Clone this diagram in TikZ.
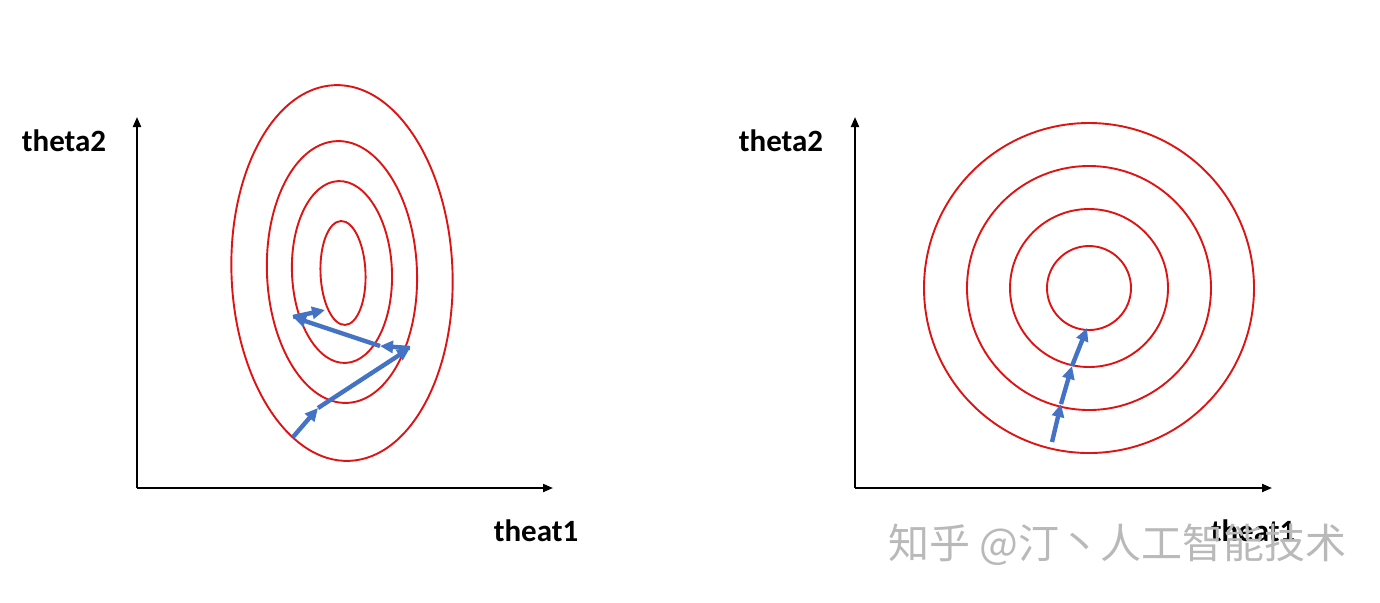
\documentclass[tikz,border=0pt]{standalone}
\usepackage{fontspec}
\setmainfont{Carlito}
\newfontfamily\cjk{Noto Sans CJK SC}
\usetikzlibrary{arrows.meta}
\definecolor{contour}{RGB}{222,20,20}
\definecolor{step blue}{RGB}{68,114,196}
\definecolor{mark gray}{RGB}{185,185,185}

\begin{document}
\begin{tikzpicture}[x=0.5pt,y=-0.5pt]
 \tikzset{axis/.style={draw=black, line width=1pt, -{Triangle[length=5pt,width=4pt]}},
  level/.style={draw=contour, line width=0.95pt},
  descent/.style={draw=step blue, line width=2.2pt, -{Triangle[length=6.5pt,width=6pt]}},
  axis label/.style={font=\fontsize{15.5}{18}\selectfont\bfseries, inner sep=0pt},
  watermark/.style={font=\cjk\fontsize{20.5}{24}\selectfont, text=mark gray, inner sep=0pt}
}
\useasboundingbox (0,0) rectangle (1380,602);

\coordinate (oL) at (137,488);
\coordinate (yL) at (137,117);
\coordinate (xL) at (553,488);
\draw[axis] (oL) -- (yL);
\draw[axis] (oL) -- (xL);
\node[axis label] (t2L) at (64,141) {theta2};
\node[axis label] (t1L) at (536,531) {theat1};

\begin{scope}[shift={(342,273)}, rotate=2.3]
 \draw[level] (0,0) ellipse [x radius=110.5, y radius=188];
 \draw[level] (0,-1) ellipse [x radius=75, y radius=131];
 \draw[level] (0,-1) ellipse [x radius=50, y radius=91];
 \draw[level] (1,0) ellipse [x radius=22.5, y radius=52];
\end{scope}

\coordinate (a0) at (293,437);
\coordinate (a1) at (318,408);
\coordinate (a2) at (410,348);
\coordinate (a3) at (380,346);
\coordinate (a4) at (293,317);
\coordinate (a5) at (325,310);
\foreach \from/\to in {a0/a1,a1/a2,a2/a3,a3/a4,a4/a5}
 \draw[descent] (\from) -- (\to);

\coordinate (oR) at (855,488);
\coordinate (yR) at (855,117);
\coordinate (xR) at (1272,488);
\draw[axis] (oR) -- (yR);
\draw[axis] (oR) -- (xR);
\node[axis label] (t2R) at (781,141) {theta2};
\node[axis label] (t1R) at (1253,531) {theat1};

\coordinate (cR) at (1089,288);
\foreach \r in {165,122,79,42}
 \draw[level] (cR) circle [radius=\r];

\coordinate (b0) at (1052,442);
\coordinate (b1) at (1061,404);
\coordinate (b2) at (1072,366);
\coordinate (b3) at (1087,328);
\foreach \from/\to in {b0/b1,b1/b2,b2/b3}
 \draw[descent] (\from) -- (\to);

\node[watermark, anchor=west] (mark) at (888,545) {知乎 @汀丶人工智能技术};
\end{tikzpicture}
\end{document}
